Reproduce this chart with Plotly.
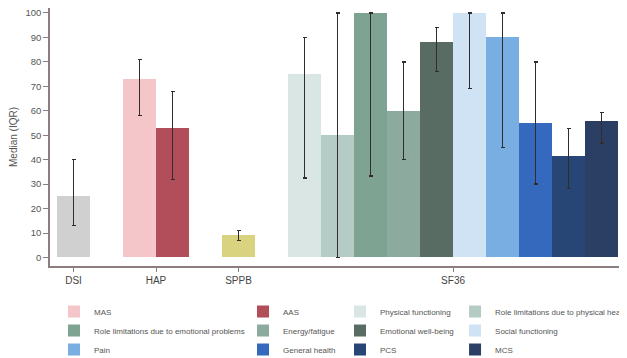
import plotly.graph_objects as go

# ---- data ----
groups = ["DSI", "HAP", "SPPB", "SF36"]
group_series = [
    ["DSI"],
    ["MAS", "AAS"],
    ["SPPB"],
    ["Physical functioning", "Role limitations due to physical health",
     "Role limitations due to emotional problems", "Energy/fatigue",
     "Emotional well-being", "Social functioning", "Pain", "General health",
     "PCS", "MCS"],
]
medians = {
    "DSI": 25, "MAS": 73, "AAS": 53, "SPPB": 9,
    "Physical functioning": 75, "Role limitations due to physical health": 50,
    "Role limitations due to emotional problems": 100, "Energy/fatigue": 60,
    "Emotional well-being": 88, "Social functioning": 100, "Pain": 90,
    "General health": 55, "PCS": 41.5, "MCS": 56,
}
q1 = {
    "DSI": 13, "MAS": 58, "AAS": 32, "SPPB": 7,
    "Physical functioning": 32.5, "Role limitations due to physical health": 0,
    "Role limitations due to emotional problems": 33.3, "Energy/fatigue": 40,
    "Emotional well-being": 76, "Social functioning": 69, "Pain": 45,
    "General health": 30, "PCS": 28.2, "MCS": 46.8,
}
q3 = {
    "DSI": 40, "MAS": 81, "AAS": 68, "SPPB": 11,
    "Physical functioning": 90, "Role limitations due to physical health": 100,
    "Role limitations due to emotional problems": 100, "Energy/fatigue": 80,
    "Emotional well-being": 94, "Social functioning": 100, "Pain": 100,
    "General health": 80, "PCS": 52.7, "MCS": 59.3,
}
colors = {
    "DSI": "#d0d0d0", "MAS": "#f4c6c9", "AAS": "#b24d5a", "SPPB": "#d9d27f",
    "Physical functioning": "#dae6e3", "Role limitations due to physical health": "#b5ccc6",
    "Role limitations due to emotional problems": "#7ea393", "Energy/fatigue": "#8daa9e",
    "Emotional well-being": "#596c64", "Social functioning": "#cfe3f5", "Pain": "#78aee2",
    "General health": "#3569bd", "PCS": "#274676", "MCS": "#2a3f63",
}
no_legend = ["DSI", "SPPB"]
# legend columns (the original legend is 4 columns x 3 rows)
legend_cols = [
    ["MAS", "Role limitations due to emotional problems", "Pain"],
    ["AAS", "Energy/fatigue", "General health"],
    ["Physical functioning", "Emotional well-being", "PCS"],
    ["Role limitations due to physical health", "Social functioning", "MCS"],
]
legend_x = [0.0069, 0.3345, 0.5026, 0.7020]

legend_of = {}
for ci, col in enumerate(legend_cols):
    for name in col:
        legend_of[name] = "legend" if ci == 0 else f"legend{ci + 1}"

fig = go.Figure()
pos = 0.0
tickvals = []
for g, sers in zip(groups, group_series):
    start = pos
    for s in sers:
        fig.add_trace(go.Bar(
            x=[pos + 0.5], y=[medians[s]], width=1.0, name=s,
            marker=dict(color=colors[s], line=dict(width=0)),
            error_y=dict(type="data", symmetric=False,
                         array=[q3[s] - medians[s]],
                         arrayminus=[medians[s] - q1[s]],
                         color="#332c2c", thickness=1.3, width=2),
            showlegend=s not in no_legend,
            legend=legend_of.get(s, "legend"),
        ))
        pos += 1
    tickvals.append((start + pos) / 2)
    pos += 1  # gap between groups

font_family = "Liberation Sans, Arial, sans-serif"
axis_col = "#8a7e7e"

legends = {}
for ci in range(4):
    key = "legend" if ci == 0 else f"legend{ci + 1}"
    legends[key] = dict(
        x=legend_x[ci], y=-0.1202, xanchor="left", yanchor="top",
        orientation="v", font=dict(size=8, color="#555555", family=font_family),
        bgcolor="rgba(0,0,0,0)", itemwidth=30, tracegroupgap=0,
        traceorder="normal",
    )

# the page body adds an 8px margin, so the figure is 8px smaller on each axis
fig.update_layout(
    width=619, height=350,
    margin=dict(l=42, r=0, t=0, b=92, autoexpand=False),
    paper_bgcolor="white", plot_bgcolor="white",
    barmode="overlay", bargap=0,
    font=dict(family=font_family, color="#444444"),
    xaxis=dict(range=[-0.212, 17.27], showgrid=False, zeroline=False,
               showline=True, linecolor=axis_col, linewidth=1.5,
               tickmode="array", tickvals=tickvals, ticktext=groups,
               ticks="outside", ticklen=4, tickcolor=axis_col,
               tickfont=dict(size=10, color="#444444")),
    yaxis=dict(range=[-3.48, 102.04], showgrid=False, zeroline=False,
               showline=True, linecolor=axis_col, linewidth=1.5,
               tickmode="array", tickvals=list(range(0, 101, 10)),
               ticks="outside", ticklen=5, tickcolor=axis_col,
               ticklabeloverflow="allow",
               tickfont=dict(size=9.5, color="#555555"),
               title=dict(text="Median (IQR)", font=dict(size=10, color="#555555"),
                          standoff=9)),
    **legends,
)

fig.write_html("out.html")
